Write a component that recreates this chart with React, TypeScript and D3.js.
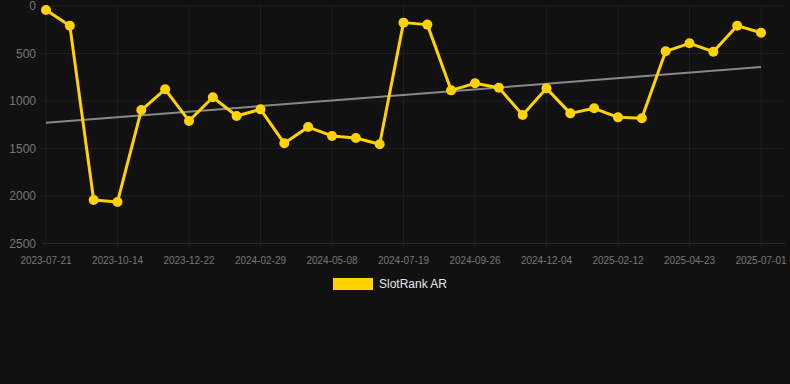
import React from "react";
import * as d3 from "d3";

const values: number[] = [
  42, 207, 2042, 2063, 1095, 877, 1210, 961, 1158, 1088, 1445, 1274, 1368, 1389, 1456,
  175, 196, 888, 814, 860, 1147, 867, 1130, 1077, 1172, 1182, 477, 393, 481, 207, 281,
];
const tickLabels: string[] = [
  "2023-07-21", "2023-10-14", "2023-12-22", "2024-02-29", "2024-05-08", "2024-07-19",
  "2024-09-26", "2024-12-04", "2025-02-12", "2025-04-23", "2025-07-01",
];
const yTicks: number[] = [0, 500, 1000, 1500, 2000, 2500];
const seriesName = "SlotRank AR";

const W = 790;
const H = 384;
const LEFT = 46;
const RIGHT = 761;
const TOP = 6;
const BOTTOM = 243.5;
const YELLOW = "#ffd200";

export default function App() {
  const idx = values.map((_, i) => i);
  const x = d3.scaleLinear().domain([0, values.length - 1]).range([LEFT, RIGHT]);
  const y = d3.scaleLinear().domain([0, 2500]).range([TOP, BOTTOM]);

  const mx = d3.mean(idx)!;
  const my = d3.mean(values)!;
  const sxy = d3.sum(idx, (i) => (i - mx) * (values[i] - my));
  const sxx = d3.sum(idx, (i) => (i - mx) * (i - mx));
  const slope = sxy / sxx;
  const icpt = my - slope * mx;

  const line = d3
    .line<number>()
    .x((_, i) => x(i))
    .y((d) => y(d));

  const tickIdx = tickLabels.map((_, k) => k * 3);

  return (
    <svg
      width={W}
      height={H}
      style={{ position: "absolute", left: 0, top: 0, background: "#111111" }}
      fontFamily="'Liberation Sans', Arial, Helvetica, sans-serif"
    >
      <rect x={0} y={0} width={W} height={H} fill="#111111" />
      {yTicks.map((t) => (
        <line
          key={"gy" + t}
          x1={42}
          x2={785}
          y1={y(t)}
          y2={y(t)}
          stroke={t === 2500 ? "#2a2a2a" : "#1f1f1f"}
          strokeWidth={1}
        />
      ))}
      {tickIdx.map((i) => (
        <line key={"gx" + i} x1={x(i)} x2={x(i)} y1={TOP} y2={BOTTOM + 4} stroke="#1f1f1f" strokeWidth={1} />
      ))}
      {yTicks.map((t) => (
        <text key={"ty" + t} x={36} y={y(t)} dy="0.35em" textAnchor="end" fontSize={12} fill="#777777">
          {t}
        </text>
      ))}
      {tickIdx.map((i, k) => (
        <text key={"tx" + i} x={x(i)} y={260} dy="0.35em" textAnchor="middle" fontSize={10} fill="#777777">
          {tickLabels[k]}
        </text>
      ))}
      <line
        x1={x(0)}
        x2={x(values.length - 1)}
        y1={y(icpt)}
        y2={y(icpt + slope * (values.length - 1))}
        stroke="#888888"
        strokeWidth={2}
      />
      <path d={line(values)!} fill="none" stroke={YELLOW} strokeWidth={3} strokeLinejoin="round" />
      {values.map((v, i) => (
        <circle key={"p" + i} cx={x(i)} cy={y(v)} r={5} fill={YELLOW} />
      ))}
      <rect x={333} y={278} width={40} height={12} fill={YELLOW} />
      <text x={379} y={284} dy="0.35em" fontSize={12} fill="#e6e6e6">
        {seriesName}
      </text>
    </svg>
  );
}
